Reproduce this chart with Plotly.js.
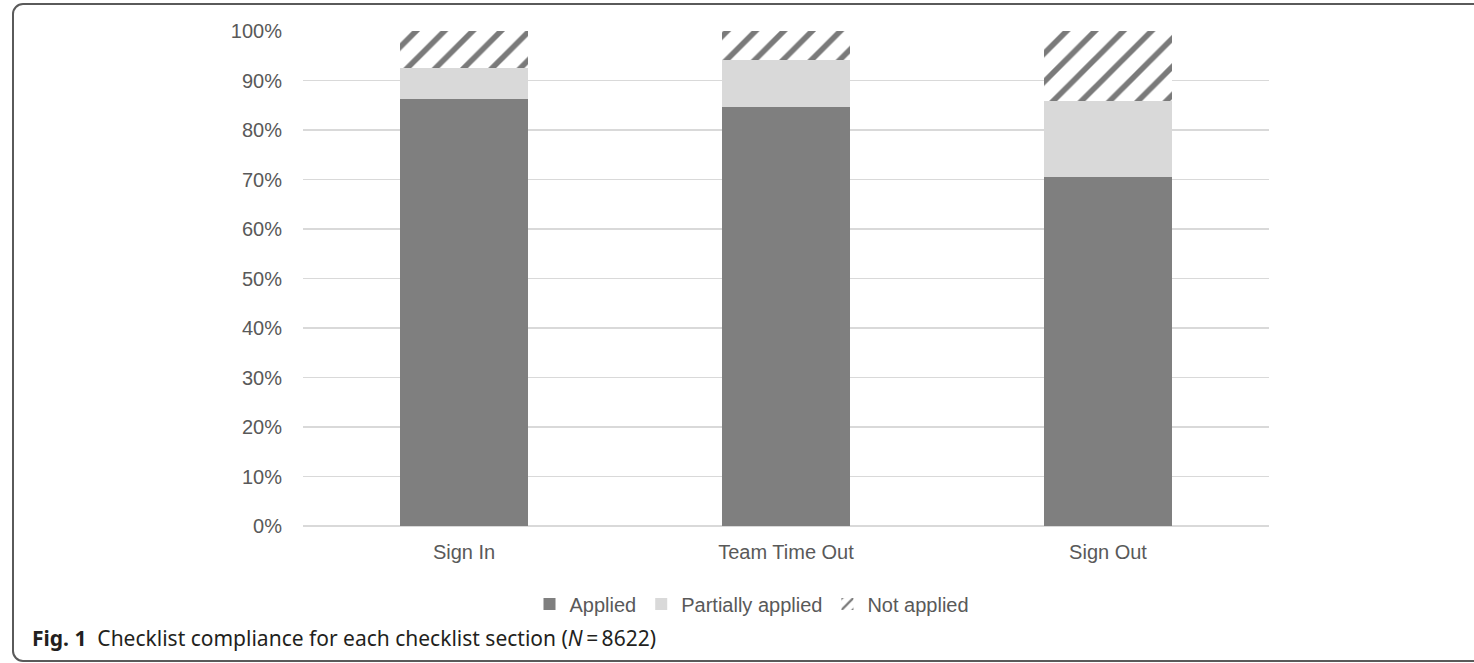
<!DOCTYPE html>
<html>
<head>
<meta charset="utf-8">
<script src="https://cdn.plot.ly/plotly-3.0.1.min.js"></script>
<style>
  html, body { margin: 0; padding: 0; background: #ffffff; }
  #wrap { position: relative; width: 1474px; height: 663px; overflow: hidden; }
  #chart { position: absolute; left: 0; top: 0; width: 1474px; height: 663px; }
  #frame { position: absolute; left: 12px; top: 3px; width: 1500px; height: 655px;
           border: 2px solid #5a5a5a; border-radius: 11px; pointer-events: none; }
</style>
</head>
<body>
<div id="wrap">
  <div id="chart"></div>
  <div id="frame"></div>
</div>
<script>
const categories = ['Sign In', 'Team Time Out', 'Sign Out'];
const applied = [86.3, 84.6, 70.6];
const partiallyApplied = [6.2, 9.5, 15.3];
const notApplied = [7.5, 5.9, 14.1];
const seriesNames = ['Applied', 'Partially applied', 'Not applied'];
const yTicks = [0, 10, 20, 30, 40, 50, 60, 70, 80, 90, 100];
const caption = '<b>Fig. 1</b>  Checklist compliance for each checklist section (<i>N</i>\u2009=\u20098622)';

const textColor = '#595959';
const font = { family: 'Liberation Sans, Arial, sans-serif', size: 20, color: textColor };

const traces = [
  {
    type: 'bar', name: seriesNames[0], x: categories, y: applied,
    marker: { color: '#7f7f7f', line: { width: 0 } }
  },
  {
    type: 'bar', name: seriesNames[1], x: categories, y: partiallyApplied,
    marker: { color: '#d9d9d9', line: { width: 0 } }
  },
  {
    type: 'bar', name: seriesNames[2], x: categories, y: notApplied,
    marker: {
      color: '#ffffff', line: { width: 0 },
      pattern: { shape: '/', fgcolor: '#7a7a7a', bgcolor: '#ffffff', size: 20, solidity: 0.28 }
    }
  }
];

const W = 1474, H = 663;
const L = 303, R = 1269, T = 31, B = 526;
const px2x = p => (p - L) / (R - L);
const py2y = p => (B - p) / (B - T);

const layout = {
  width: W, height: H,
  margin: { l: L, r: W - R, t: T, b: H - B, pad: 0 },
  paper_bgcolor: '#ffffff', plot_bgcolor: '#ffffff',
  font: font,
  barmode: 'stack',
  bargap: 0.6,
  showlegend: true,
  legend: {
    orientation: 'h', x: px2x(752), xanchor: 'center', y: py2y(604), yanchor: 'middle',
    font: font, traceorder: 'normal', bgcolor: 'rgba(0,0,0,0)'
  },
  xaxis: {
    type: 'category', showgrid: false, showline: false, zeroline: false,
    ticks: '', tickfont: font, ticklabelstandoff: 12, fixedrange: true
  },
  yaxis: {
    range: [0, 100], tickvals: yTicks, ticktext: yTicks.map(v => v + '%'),
    showgrid: true, gridcolor: '#d9d9d9', gridwidth: 1.7,
    zeroline: true, zerolinecolor: '#d9d9d9', zerolinewidth: 1.7,
    showline: false, ticks: '', tickfont: font, ticklabelstandoff: 20, fixedrange: true
  },
  annotations: [
    {
      xref: 'paper', yref: 'paper', x: px2x(30), y: py2y(638),
      xanchor: 'left', yanchor: 'middle', showarrow: false, align: 'left',
      text: caption,
      font: { family: 'Noto Sans, Open Sans, sans-serif', size: 21, color: '#231f20' }
    }
  ]
};

Plotly.newPlot('chart', traces, layout, { staticPlot: true, displayModeBar: false });
</script>
</body>
</html>
